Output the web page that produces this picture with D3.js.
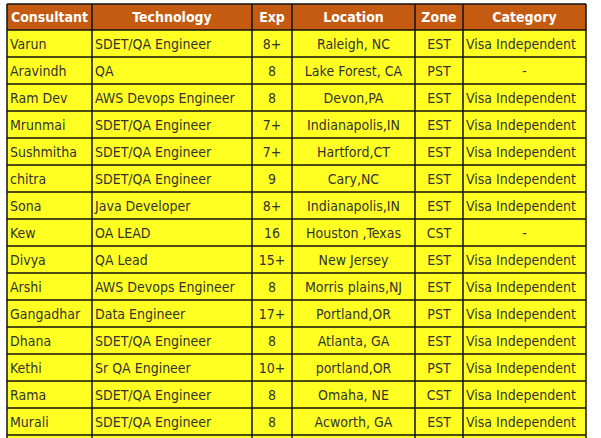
<!DOCTYPE html><html><head><meta charset="utf-8"><script src="https://cdn.jsdelivr.net/npm/d3@7"></script>
<style>body{margin:0;background:#fff}</style></head><body><svg id="c" width="601" height="438"></svg>
<script>
const headers=["Consultant","Technology","Exp","Location","Zone","Category"];
const consultants=["Varun","Aravindh","Ram Dev","Mrunmai","Sushmitha","chitra","Sona","Kew","Divya","Arshi","Gangadhar","Dhana","Kethi","Rama","Murali",""];
const technologies=["SDET/QA Engineer","QA","AWS Devops Engineer","SDET/QA Engineer","SDET/QA Engineer","SDET/QA Engineer","Java Developer","OA LEAD","QA Lead","AWS Devops Engineer","Data Engineer","SDET/QA Engineer","Sr QA Engineer","SDET/QA Engineer","SDET/QA Engineer",""];
const exps=["8+","8","8","7+","7+","9","8+","16","15+","8","17+","8","10+","8","8",""];
const locations=["Raleigh, NC","Lake Forest, CA","Devon,PA","Indianapolis,IN","Hartford,CT","Cary,NC","Indianapolis,IN","Houston ,Texas","New Jersey","Morris plains,NJ","Portland,OR","Atlanta, GA","portland,OR","Omaha, NE","Acworth, GA",""];
const zones=["EST","PST","EST","EST","EST","EST","EST","CST","EST","EST","PST","EST","PST","CST","EST",""];
const categories=["Visa Independent","-","Visa Independent","Visa Independent","Visa Independent","Visa Independent","Visa Independent","-","Visa Independent","Visa Independent","Visa Independent","Visa Independent","Visa Independent","Visa Independent","Visa Independent",""];
const cols=[consultants,technologies,exps,locations,zones,categories];
const edges=[7,92,252,292,415,463,586];
const align=["start","start","middle","middle","middle","start"];
const svg=d3.select("#c");
const y=d3.scaleLinear().domain([0,1]).range([30,57]);
const font="'DejaVu Sans Condensed','DejaVu Sans',sans-serif";
// header
svg.append("rect").attr("x",7).attr("y",4).attr("width",579).attr("height",26).attr("fill","#c55a11");
headers.forEach((h,i)=>svg.append("text").attr("x",(edges[i]+edges[i+1])/2).attr("y",22).attr("text-anchor","middle")
 .attr("fill","#fff").attr("font-weight","bold").attr("font-size",14).attr("font-family",font).attr("font-stretch","condensed").text(h));
const n=consultants.length;
svg.append("rect").attr("x",7).attr("y",y(0)).attr("width",579).attr("height",y(n)-y(0)).attr("fill","#ffff22");
for(let r=0;r<n;r++){
 cols.forEach((c,i)=>{
  const v=c[r]; const isDash=v==="-";
  const a=isDash?"middle":align[i];
  const x=a==="middle"?(edges[i]+edges[i+1])/2:edges[i]+3;
  svg.append("text").attr("x",x).attr("y",y(r)+19).attr("text-anchor",a).attr("fill","#333")
   .attr("font-size",14).attr("font-family",font).attr("font-stretch","condensed").text(v);
 });
}
for(let r=0;r<=n;r++) svg.append("line").attr("x1",7).attr("x2",586).attr("y1",y(r)).attr("y2",y(r)).attr("stroke","#111").attr("stroke-width",1.5);
svg.append("line").attr("x1",7).attr("x2",586).attr("y1",4).attr("y2",4).attr("stroke","#111").attr("stroke-width",1.5);
edges.forEach(e=>svg.append("line").attr("x1",e).attr("x2",e).attr("y1",4).attr("y2",y(n)).attr("stroke","#111").attr("stroke-width",1.5));
</script></body></html>
